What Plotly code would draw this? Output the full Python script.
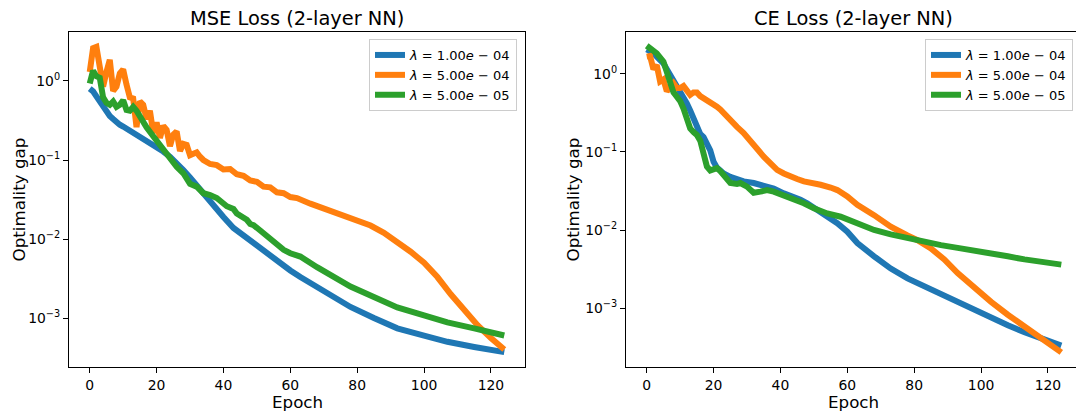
import plotly.graph_objects as go

# ---------------- data ----------------
series_names = ["<i>λ</i> = 1.00<i>e</i> − 04",
                "<i>λ</i> = 5.00<i>e</i> − 04",
                "<i>λ</i> = 5.00<i>e</i> − 05"]
colors = ["#1f77b4", "#ff7f0e", "#2ca02c"]

# MSE loss, lambda = 1e-4
mse_b_epoch = [0, 1, 2, 3, 4, 5, 6, 7, 8, 9, 10, 11, 13, 15, 17, 20, 22, 24, 26, 28, 30, 33, 36, 38, 40, 43, 46,
               50, 55, 60, 63, 68, 73, 78, 85, 92, 100, 107, 115, 124]
mse_b_gap = [0.80, 0.74, 0.64, 0.55, 0.47, 0.41, 0.36, 0.33, 0.30, 0.28, 0.265, 0.25, 0.225, 0.197, 0.175, 0.148,
             0.128, 0.110, 0.093, 0.0747, 0.060, 0.042, 0.030, 0.023, 0.0190, 0.0138, 0.0110, 0.0083, 0.0058,
             0.0040, 0.0033, 0.00245, 0.0018, 0.00138, 0.00100, 0.00074, 0.00060, 0.00050, 0.00043, 0.00037]
# MSE loss, lambda = 5e-4
mse_o_epoch = [0, 1, 2, 3, 4, 5, 6, 7, 8, 9, 10, 11, 12, 13, 14, 15, 16, 17, 18, 19, 20, 21, 22, 23, 24, 25, 26,
               27, 28, 29, 30, 31, 32, 33, 34, 36, 38, 40, 42, 44, 46, 48, 50, 52, 54, 56, 58, 60, 62, 66, 71, 76,
               80, 84, 88, 92, 96, 100, 104, 108, 112, 116, 120, 124]
mse_o_gap = [1.3, 2.6, 2.7, 1.6, 0.85, 1.3, 1.85, 0.75, 0.85, 1.25, 1.4, 0.9, 0.62, 0.6, 0.26, 0.55, 0.5, 0.33,
             0.42, 0.22, 0.30, 0.19, 0.27, 0.24, 0.15, 0.21, 0.23, 0.13, 0.16, 0.155, 0.115, 0.12, 0.125, 0.11,
             0.10, 0.089, 0.086, 0.076, 0.077, 0.066, 0.063, 0.055, 0.053, 0.046, 0.045, 0.039, 0.038, 0.034,
             0.033, 0.028, 0.0233, 0.0195, 0.0172, 0.0148, 0.0120, 0.0092, 0.0069, 0.0050, 0.0033, 0.0020,
             0.00125, 0.00081, 0.00056, 0.00040]
# MSE loss, lambda = 5e-5
mse_g_epoch = [0, 1, 2, 3, 4, 5, 6, 7, 8, 9, 10, 11, 12, 13, 14, 15, 17, 19, 21, 22, 24, 26, 28, 30, 32, 34, 36,
               38, 41, 42, 43, 44, 45, 47, 48, 49, 51, 53, 55, 58, 60, 63, 68, 73, 78, 85, 92, 100, 107, 115, 124]
mse_g_gap = [0.93, 1.35, 1.15, 1.1, 0.62, 0.53, 0.50, 0.55, 0.47, 0.50, 0.57, 0.43, 0.42, 0.47, 0.42, 0.35, 0.26,
             0.20, 0.155, 0.135, 0.11, 0.082, 0.068, 0.050, 0.046, 0.038, 0.036, 0.033, 0.026, 0.025, 0.024,
             0.021, 0.020, 0.0175, 0.0155, 0.0150, 0.0128, 0.0110, 0.0090, 0.0073, 0.0066, 0.0060, 0.0044,
             0.0033, 0.0025, 0.00185, 0.00136, 0.00108, 0.00088, 0.00074, 0.00060]

# CE loss, lambda = 1e-4
ce_b_epoch = [0, 2, 4, 5, 6, 7, 8, 9, 10, 11, 12, 13, 14, 15, 16, 17, 18, 19, 20, 21, 22, 23, 25, 27, 29, 32, 34,
              36, 38, 41, 44, 46, 48, 51, 54, 57, 60, 63, 68, 73, 78, 83, 88, 93, 98, 103, 108, 113, 118, 124]
ce_b_gap = [2.07, 1.85, 1.5, 1.37, 1.15, 0.97, 0.85, 0.72, 0.62, 0.53, 0.42, 0.34, 0.27, 0.21, 0.17, 0.155, 0.13,
            0.105, 0.075, 0.063, 0.058, 0.053, 0.048, 0.044, 0.042, 0.040, 0.038, 0.036, 0.034, 0.0295, 0.027,
            0.0244, 0.022, 0.018, 0.015, 0.0122, 0.0095, 0.0068, 0.0046, 0.0032, 0.0024, 0.0019, 0.00147,
            0.0012, 0.00094, 0.00075, 0.00060, 0.00049, 0.00041, 0.00033]
# CE loss, lambda = 5e-4
ce_o_epoch = [0, 1, 2, 3, 4, 5, 6, 7, 8, 9, 10, 11, 12, 13, 14, 15, 16, 17, 18, 19, 20, 21, 22, 24, 27, 29, 31,
              33, 35, 37, 39, 41, 43, 45, 47, 50, 52, 55, 57, 60, 63, 68, 73, 78, 81, 85, 89, 93, 98, 103, 108,
              113, 118, 124]
ce_o_gap = [1.67, 1.7, 1.15, 1.3, 0.8, 0.85, 0.6, 0.68, 0.76, 0.66, 0.66, 0.70, 0.6, 0.54, 0.58, 0.58, 0.52,
            0.49, 0.47, 0.44, 0.42, 0.38, 0.35, 0.28, 0.21, 0.175, 0.142, 0.11, 0.087, 0.072, 0.059, 0.053,
            0.048, 0.045, 0.042, 0.040, 0.038, 0.035, 0.0325, 0.027, 0.021, 0.0155, 0.011, 0.0085, 0.0074,
            0.0058, 0.0042, 0.0028, 0.0018, 0.0012, 0.00082, 0.00057, 0.00040, 0.00027]
# CE loss, lambda = 5e-5
ce_g_epoch = [0, 1, 3, 5, 6, 7, 8, 9, 10, 11, 12, 13, 14, 15, 16, 17, 18, 19, 20, 21, 22, 23, 24, 25, 27, 28, 30,
              32, 34, 36, 38, 41, 44, 47, 50, 54, 58, 63, 68, 73, 78, 83, 88, 93, 98, 103, 108, 113, 118, 124]
ce_g_gap = [2.3, 2.1, 1.84, 1.44, 1.1, 0.75, 0.58, 0.51, 0.45, 0.36, 0.27, 0.20, 0.18, 0.165, 0.14, 0.096, 0.065,
            0.058, 0.060, 0.062, 0.057, 0.050, 0.044, 0.040, 0.039, 0.040, 0.036, 0.030, 0.031, 0.0325, 0.031,
            0.028, 0.025, 0.022, 0.019, 0.0163, 0.0148, 0.0122, 0.0100, 0.0088, 0.0078, 0.0071, 0.0064, 0.0059,
            0.0055, 0.0050, 0.0046, 0.0042, 0.0039, 0.0036]

titles = ["MSE Loss (2-layer NN)", "CE Loss (2-layer NN)"]
x_label = "Epoch"
y_label = "Optimality gap"
x_ticks = [0, 20, 40, 60, 80, 100, 120]
y_tick_vals = [1, 0.1, 0.01, 0.001]
y_tick_text = ["10<sup>0</sup>", "10<sup>−1</sup>", "10<sup>−2</sup>", "10<sup>−3</sup>"]

# ---------------- figure ----------------
FONT = "DejaVu Sans"
W, H = 1076, 414
ML, MR, MT, MB = 69, 0, 32, 47
PW = W - ML - MR
PH = H - MT - MB
LW = 6

fig = go.Figure()

left = [(mse_b_epoch, mse_b_gap), (mse_o_epoch, mse_o_gap), (mse_g_epoch, mse_g_gap)]
right = [(ce_b_epoch, ce_b_gap), (ce_o_epoch, ce_o_gap), (ce_g_epoch, ce_g_gap)]

for i, (xs, ys) in enumerate(left):
    fig.add_trace(go.Scatter(x=xs, y=ys, mode="lines", name=series_names[i],
                             line=dict(color=colors[i], width=LW),
                             xaxis="x", yaxis="y", legend="legend"))
for i, (xs, ys) in enumerate(right):
    fig.add_trace(go.Scatter(x=xs, y=ys, mode="lines", name=series_names[i],
                             line=dict(color=colors[i], width=LW),
                             xaxis="x2", yaxis="y2", legend="legend2"))

minor_vals = [m * 10 ** e for e in range(-4, 1) for m in range(2, 10)]

def xax(domain, rng, anchor, mirror):
    return dict(domain=domain, range=rng, anchor=anchor, tickmode="array", tickvals=x_ticks,
                ticks="outside", ticklen=5, tickwidth=1.1, tickcolor="black",
                showline=True, linecolor="black", linewidth=1.1, mirror=mirror,
                showgrid=False, zeroline=False,
                tickfont=dict(family=FONT, size=13.9, color="black"))

def yax(rng, anchor, mirror):
    return dict(type="log", range=rng, anchor=anchor, tickmode="array",
                tickvals=y_tick_vals, ticktext=y_tick_text,
                ticks="outside", ticklen=5, tickwidth=1.1, tickcolor="black",
                showline=True, linecolor="black", linewidth=1.1, mirror=mirror,
                showgrid=False, zeroline=False,
                tickfont=dict(family=FONT, size=13.9, color="black"))

def yminor(rng, anchor, over):
    # overlay axis carrying only the minor log ticks
    return dict(type="log", range=rng, anchor=anchor, overlaying=over, side="left",
                tickmode="array", tickvals=minor_vals, showticklabels=False,
                ticks="outside", ticklen=3, tickwidth=0.8, tickcolor="black",
                showline=False, showgrid=False, zeroline=False)

d1 = [0, (525 - ML) / PW]
d2 = [(626 - ML) / PW, 1]

legend_style = dict(bgcolor="rgba(255,255,255,0.8)", bordercolor="#cccccc", borderwidth=1,
                    font=dict(family=FONT, size=13, color="black"), xanchor="right", yanchor="top",
                    itemwidth=30, tracegroupgap=0)

annotations = []
for cx, t in zip([(69 + 525) / 2, (626 + 1081) / 2], titles):
    annotations.append(dict(text=t, x=(cx - ML) / PW, y=1 + (MT - 18) / PH, xref="paper", yref="paper",
                            xanchor="center", yanchor="middle", showarrow=False,
                            font=dict(family=FONT, size=19.4, color="black")))
    annotations.append(dict(text=x_label, x=(cx - ML) / PW, y=-(402 - (MT + PH)) / PH, xref="paper",
                            yref="paper", xanchor="center", yanchor="middle", showarrow=False,
                            font=dict(family=FONT, size=16.7, color="black")))
for lx in [18, 572]:
    annotations.append(dict(text=y_label, x=(lx - ML) / PW, y=0.5, xref="paper", yref="paper",
                            xanchor="center", yanchor="middle", showarrow=False, textangle=-90,
                            font=dict(family=FONT, size=16.7, color="black")))

fig.update_layout(
    width=W, height=H,
    margin=dict(l=ML, r=MR, t=MT, b=MB, pad=0),
    paper_bgcolor="white", plot_bgcolor="white",
    font=dict(family=FONT, color="black"),
    xaxis=xax(d1, [-6.2, 130.2], "y", True),
    yaxis=yax([-3.62, 0.62], "x", True),
    yaxis3=yminor([-3.62, 0.62], "x", "y"),
    xaxis2=xax(d2, [-6.2, 128.4], "y2", True),
    yaxis2=yax([-3.756, 0.538], "x2", False),
    yaxis4=yminor([-3.756, 0.538], "x2", "y2"),
    legend=dict(x=(517 - ML) / PW, y=1 - (39 - MT) / PH, **legend_style),
    legend2=dict(x=(1073 - ML) / PW, y=1 - (39 - MT) / PH, **legend_style),
    annotations=annotations,
    showlegend=True,
)

fig.write_html("out.html", config={"displayModeBar": False},
               post_script="document.body.style.margin='0';document.body.style.overflow='hidden';")
